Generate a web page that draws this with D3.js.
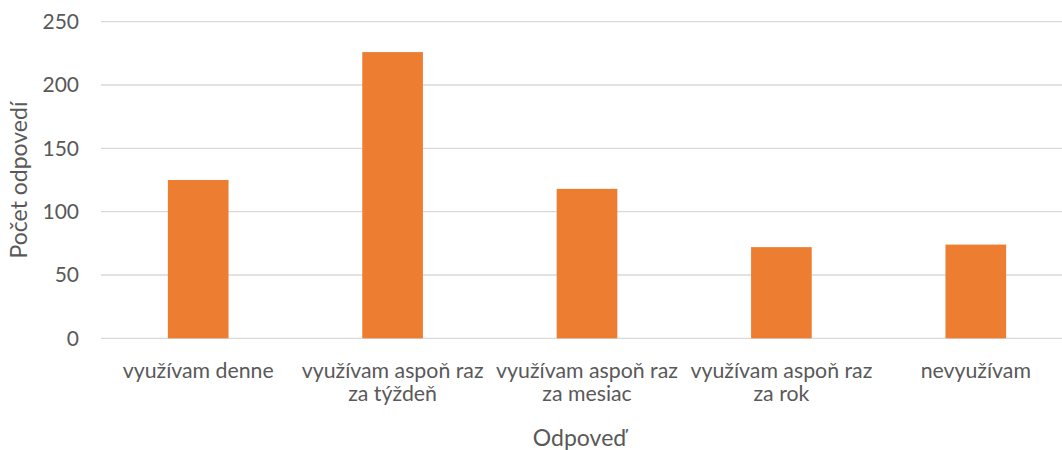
<!DOCTYPE html>
<html>
<head>
<meta charset="utf-8">
<script src="https://cdn.jsdelivr.net/npm/d3@7/dist/d3.min.js"></script>
<style>
  html, body { margin: 0; padding: 0; background: #fff; overflow: hidden; }
  text { font-family: Lato, "Open Sans", sans-serif; fill: #595959; }
</style>
</head>
<body>
<div id="chart"></div>
<script>
// Dáta
const categories = [
  'využívam denne',
  'využívam aspoň raz za týždeň',
  'využívam aspoň raz za mesiac',
  'využívam aspoň raz za rok',
  'nevyužívam'
];
const values = [125, 226, 118, 72, 74];
const yTicks = [0, 50, 100, 150, 200, 250];

const width = 1062;
const height = 450;
const margin = { top: 21.7, right: -11, bottom: 111.7, left: 101 };
const plotW = width - margin.left - margin.right;
const plotH = height - margin.top - margin.bottom;

const svg = d3.select('#chart')
  .append('svg')
  .attr('width', width)
  .attr('height', height);

const g = svg.append('g')
  .attr('transform', `translate(${margin.left},${margin.top})`);

// Škály
const x = d3.scaleBand()
  .domain(categories)
  .range([0, plotW])
  .paddingInner(0.688)
  .paddingOuter(0.344);

const y = d3.scaleLinear()
  .domain([0, 250])
  .range([plotH, 0]);

// Mriežka
g.append('g')
  .selectAll('line')
  .data(yTicks)
  .join('line')
  .attr('x1', 0)
  .attr('x2', plotW)
  .attr('y1', d => y(d))
  .attr('y2', d => y(d))
  .attr('stroke', '#d9d9d9')
  .attr('stroke-width', 1.3);

// Stĺpce
g.append('g')
  .selectAll('rect')
  .data(values)
  .join('rect')
  .attr('x', (d, i) => x(categories[i]))
  .attr('y', d => y(d))
  .attr('width', x.bandwidth())
  .attr('height', d => plotH - y(d))
  .attr('fill', '#ed7d31');

// Os Y
const yAxis = g.append('g')
  .call(d3.axisLeft(y).tickValues(yTicks).tickSize(0).tickPadding(22));
yAxis.select('.domain').remove();
yAxis.selectAll('text')
  .attr('font-size', 21)
  .attr('fill', '#595959');

// Os X
const step = x.step();
const xAxis = g.append('g')
  .attr('transform', `translate(0,${plotH})`)
  .call(d3.axisBottom(x).tickSize(0).tickPadding(0));
xAxis.select('.domain').remove();
xAxis.selectAll('text')
  .attr('font-size', 21.3)
  .attr('fill', '#595959')
  .attr('dy', null)
  .call(wrap, step);

function wrap(texts, maxW) {
  texts.each(function () {
    const text = d3.select(this);
    const words = text.text().split(/\s+/);
    text.text(null);
    let line = [];
    let lineNo = 0;
    let tspan = text.append('tspan').attr('x', 0).attr('y', 40);
    words.forEach(w => {
      line.push(w);
      tspan.text(line.join(' '));
      if (tspan.node().getComputedTextLength() > maxW && line.length > 1) {
        line.pop();
        tspan.text(line.join(' '));
        line = [w];
        lineNo++;
        tspan = text.append('tspan').attr('x', 0).attr('y', 40 + lineNo * 22.5).text(w);
      }
    });
  });
}

// Názvy osí
svg.append('text')
  .attr('x', margin.left + (width - margin.left) / 2 - 2)
  .attr('y', 446)
  .attr('text-anchor', 'middle')
  .attr('font-size', 23)
  .text('Odpoveď');

svg.append('text')
  .attr('transform', `translate(27,${margin.top + plotH / 2}) rotate(-90)`)
  .attr('text-anchor', 'middle')
  .attr('font-size', 23)
  .text('Počet odpovedí');
</script>
</body>
</html>
